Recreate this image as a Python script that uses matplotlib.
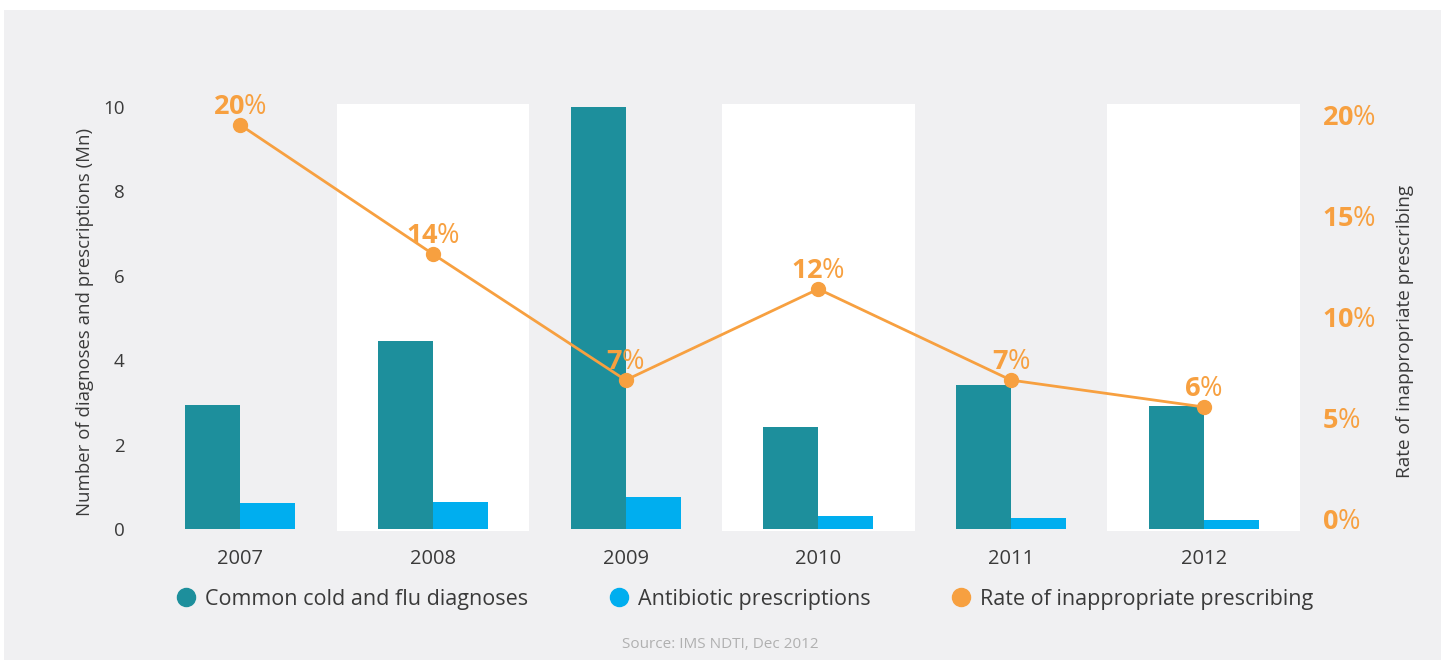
import matplotlib
matplotlib.use("Agg")
import matplotlib.pyplot as plt
from matplotlib.patches import Rectangle
from matplotlib.lines import Line2D
import numpy as np

# data
years = ["2007", "2008", "2009", "2010", "2011", "2012"]
cold_flu = [2.93, 4.45, 10.0, 2.42, 3.41, 2.91]
antibiotics = [0.61, 0.63, 0.77, 0.32, 0.27, 0.21]
rate = [19.46, 13.07, 6.83, 11.34, 6.83, 5.5]
rate_labels = ["20", "14", "7", "12", "7", "6"]

teal = "#1d8f9c"
blue = "#00aeef"
orange = "#f7a040"
txt = "#3a3a3a"

plt.rcParams['font.family'] = ['Open Sans', 'DejaVu Sans']
plt.rcParams['mathtext.fontset'] = 'custom'
plt.rcParams['mathtext.rm'] = 'Open Sans'
plt.rcParams['mathtext.bf'] = 'Open Sans:bold'

fig = plt.figure(figsize=(14.45, 6.6), dpi=100)
fig.patch.set_facecolor("white")
# grey panel
fig.patches.append(Rectangle((4 / 1445, 0), 1437 / 1445, 650 / 660,
                             transform=fig.transFigure, facecolor="#f0f0f2",
                             edgecolor="none", zorder=-5))

ax = fig.add_axes([144 / 1445, 129 / 660, 1156 / 1445, 427 / 660])
ax.set_facecolor("none")
x = np.arange(len(years))
w = 0.285

# white bands behind every other year
for i in x[1::2]:
    ax.axvspan(i - 0.5, i + 0.5, color="white", zorder=0, lw=0)

ax.bar(x - w / 2, cold_flu, w, color=teal, zorder=2)
ax.bar(x + w / 2, antibiotics, w, color=blue, zorder=2)

ax.set_xlim(-0.5, 5.5)
ax.set_ylim(-0.047, 10.07)
ax.set_yticks([0, 2, 4, 6, 8, 10])
ax.set_xticks(x)
ax.set_xticklabels(years)
ax.tick_params(length=0, labelsize=13.5, labelcolor=txt)
ax.tick_params(axis="x", labelsize=14.5, pad=13)
ax.tick_params(axis="y", pad=14)
ax.set_ylabel("Number of diagnoses and prescriptions (Mn)", fontsize=13.4,
              color=txt)
ax.yaxis.set_label_coords(-0.043, 0.49)
for s in ax.spines.values():
    s.set_visible(False)

ax2 = ax.twinx()
ax2.plot(x, rate, color=orange, lw=2, marker="o", ms=10, zorder=3)
for xi, yi, lab in zip(x, rate, rate_labels):
    ax2.annotate(r"$\mathbf{" + lab + "}$%", (xi, yi), xytext=(0, 3),
                 textcoords="offset points", ha="center", va="bottom",
                 fontsize=19.5, color=orange)
ax2.set_ylim(-0.64, 20.5)
ax2.set_yticks([0, 5, 10, 15, 20])
ax2.set_yticklabels([r"$\mathbf{" + str(v) + "}$%" for v in [0, 5, 10, 15, 20]])
ax2.tick_params(length=0, labelsize=19.5, labelcolor=orange, pad=16)
ax2.set_ylabel("Rate of inappropriate prescribing", fontsize=13.7, color=txt)
ax2.yaxis.set_label_coords(1.083, 0.468)
for s in ax2.spines.values():
    s.set_visible(False)

handles = [Line2D([], [], ls="none", marker="o", ms=13, color=c)
           for c in (teal, blue, orange)]
fig.legend(handles, ["Common cold and flu diagnoses", "Antibiotic prescriptions",
                     "Rate of inappropriate prescribing"],
           loc="center", bbox_to_anchor=(741 / 1445, 1 - 599 / 660), ncol=3,
           frameon=False, fontsize=15.5, handlelength=1.6, handletextpad=0.1,
           columnspacing=3.38, labelcolor=txt)

fig.text(720 / 1445, 1 - 645 / 660, "Source: IMS NDTI, Dec 2012", ha="center",
         va="center", fontsize=11, color="#b0b0b0")

fig.savefig("out.png", dpi=100, facecolor=fig.get_facecolor())
